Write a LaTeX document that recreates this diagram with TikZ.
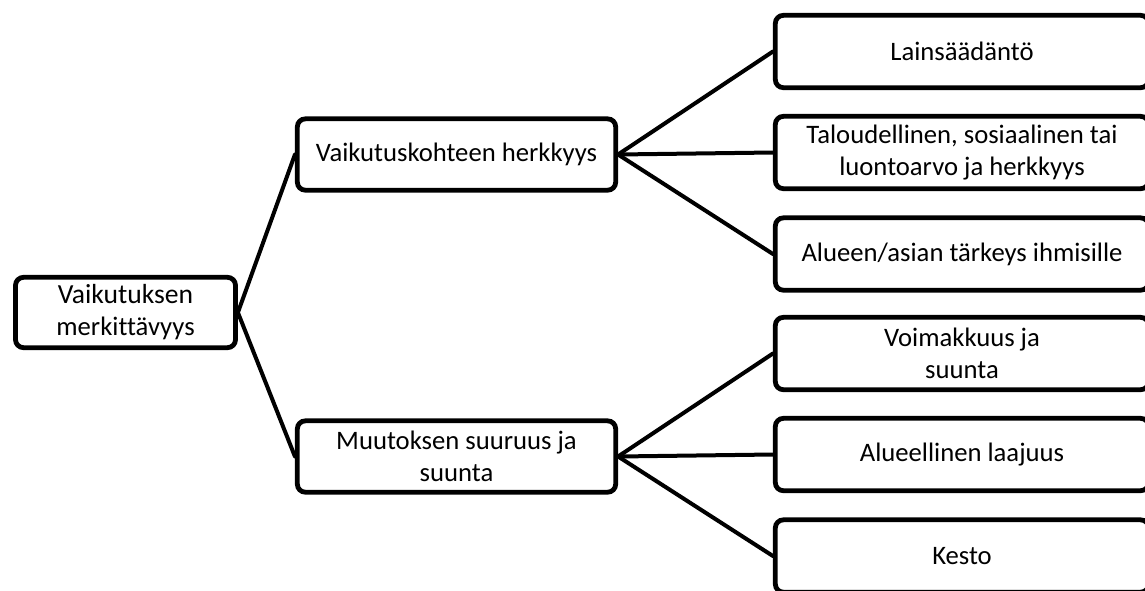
\documentclass[tikz,border=0pt]{standalone}
\usepackage{fontspec}
\setmainfont{Carlito}[Ligatures=NoCommon]
\begin{document}
\begin{tikzpicture}[x=0.75pt,y=-0.75pt,
  box/.style={draw=black,line width=3.6pt,rounded corners=6pt,fill=white,
    inner sep=0pt,align=center,font=\fontsize{20}{24}\selectfont},
  rootbox/.style={box,minimum width=165pt,minimum height=52.75pt},
  midbox/.style={box,minimum width=238.75pt,minimum height=53.5pt},
  leafbox/.style={box,minimum width=280pt,minimum height=54.25pt},
  link/.style={line width=3pt,line cap=round}]
\useasboundingbox (0,0) rectangle (1145,590);
\clip (0,0) rectangle (1145,590);
\node[rootbox] (root) at (125.5,312.5) {\fontsize{20.7}{20.25}\selectfont Vaikutuksen\\merkittävyys};
\node[midbox] (m1) at (456.5,154.5) {Vaikutuskohteen herkkyys};
\node[midbox] (m2) at (456.5,456.5) {\fontsize{20}{24}\selectfont Muutoksen suuruus ja\\suunta};
\node[leafbox] (r1) at (962,51.5) {Lainsäädäntö};
\node[leafbox] (r2) at (962,152.5) {\fontsize{20}{28.5}\selectfont Taloudellinen, sosiaalinen tai\\luontoarvo ja herkkyys};
\node[leafbox] (r3) at (962,254) {Alueen/asian tärkeys ihmisille};
\node[leafbox] (r4) at (962,353.5) {\fontsize{20}{32}\selectfont Voimakkuus ja\\suunta};
\node[leafbox] (r5) at (962,454.5) {Alueellinen laajuus};
\node[leafbox] (r6) at (962,556) {Kesto};
\draw[link] (root.east) -- (m1.west);
\draw[link] (root.east) -- (m2.west);
\draw[link] (m1.east) -- (r1.west);
\draw[link] (m1.east) -- (r2.west);
\draw[link] (m1.east) -- (r3.west);
\draw[link] (m2.east) -- (r4.west);
\draw[link] (m2.east) -- (r5.west);
\draw[link] (m2.east) -- (r6.west);
\end{tikzpicture}
\end{document}
